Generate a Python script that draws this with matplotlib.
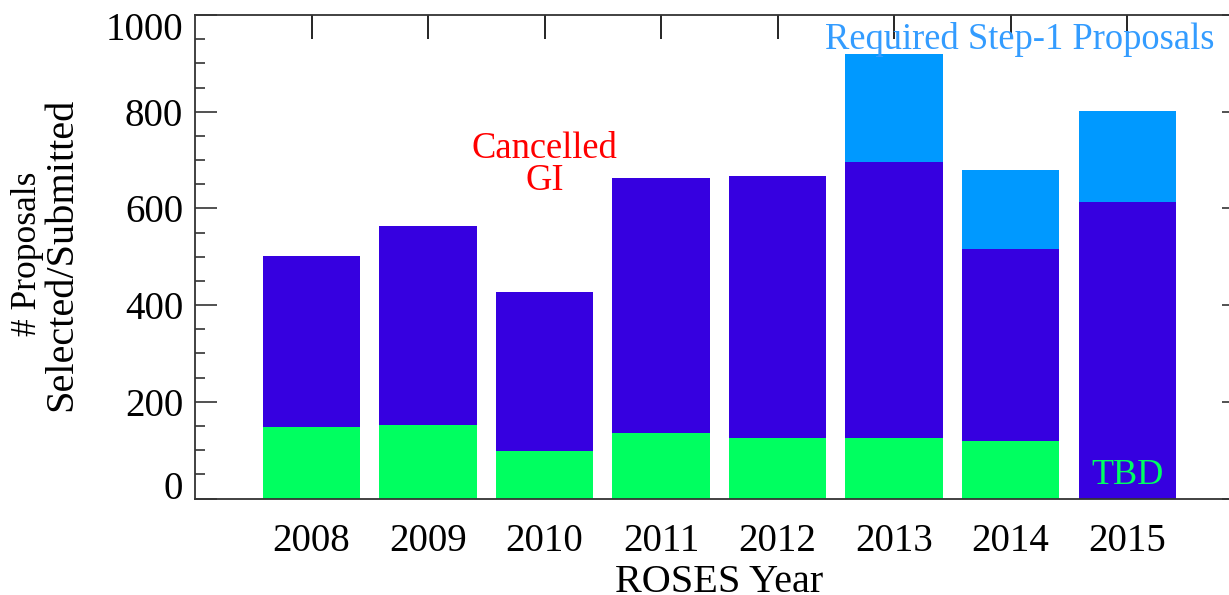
import numpy as np
import matplotlib
matplotlib.use("Agg")
import matplotlib.pyplot as plt
from matplotlib.ticker import MultipleLocator, FixedLocator

# ---- data ----
years = ["2008", "2009", "2010", "2011", "2012", "2013", "2014", "2015"]
step1_required = [np.nan, np.nan, np.nan, np.nan, np.nan, 919, 680, 801]
submitted = [501, 564, 428, 662, 668, 695, 516, 613]
selected = [147, 153, 99, 135, 125, 125, 119, 0]
ytick_vals = [0, 200, 400, 600, 800, 1000]

# ---- style ----
plt.rcParams['font.family'] = ['Liberation Serif', 'DejaVu Serif']
C_DARK = '#3600E0'
C_GREEN = '#00FF60'
C_LIGHT = '#0099FF'
SPINE = '#333333'

W, H = 1229, 595
fig = plt.figure(figsize=(W / 100, H / 100), dpi=100)
left_px, right_px, top_px, bot_px = 195, 1243.7, 15, 498.5
ax = fig.add_axes([left_px / W, (H - bot_px) / H,
                   (right_px - left_px) / W, (bot_px - top_px) / H])

x = np.arange(len(years))
bw = 0.835
ax.bar(x, step1_required, width=bw, color=C_LIGHT, linewidth=0, zorder=1)
ax.bar(x, submitted, width=bw, color=C_DARK, linewidth=0, zorder=2)
ax.bar(x, selected, width=bw, color=C_GREEN, linewidth=0, zorder=3)

ax.set_xlim(-1, 8)
ax.set_ylim(0, 1000)

for s in ax.spines.values():
    s.set_color(SPINE)
    s.set_linewidth(1.3)
    s.set_zorder(5)

# x ticks: labels at bottom, tick marks on top only
ax.set_xticks(x)
ax.set_xticklabels(years, fontsize=28)
ax.tick_params(axis='x', which='major', direction='in', bottom=True, top=True,
               length=0, pad=17.5, labelsize=28)
for t in ax.xaxis.get_major_ticks():
    t.tick2line.set_markersize(17.3)
    t.tick2line.set_markeredgewidth(1.2)
    t.tick2line.set_color(SPINE)

# y ticks
ax.yaxis.set_major_locator(FixedLocator(ytick_vals))
ax.yaxis.set_minor_locator(MultipleLocator(50))
ax.set_yticklabels(['' if v in (0, 1000) else str(v) for v in ytick_vals])
ax.tick_params(axis='y', which='major', direction='in', left=True, right=True,
               length=15.8, width=1.2, color=SPINE, pad=8.6, labelsize=28)
ax.tick_params(axis='y', which='minor', direction='in', left=True, right=False,
               length=7.2, width=1.2, color=SPINE)

# end labels shifted inside the axis range
ax.annotate('0', xy=(0, 0), xycoords=('axes fraction', 'data'),
            xytext=(-8.6, 9.7), textcoords='offset points',
            ha='right', va='center_baseline', fontsize=28)
ax.annotate('1000', xy=(0, 1000), xycoords=('axes fraction', 'data'),
            xytext=(-8.6, -7.9), textcoords='offset points',
            ha='right', va='center_baseline', fontsize=28)

# annotations
ax.text(2.0, 638, 'Cancelled\nGI', color='#FF0000', fontsize=26.3,
        ha='center', va='baseline', linespacing=0.91,
        multialignment='center', zorder=6)
ax.text(6.074, 929, 'Required Step-1 Proposals', color='#339CFF',
        fontsize=26.3, ha='center', va='baseline', zorder=6)
ax.text(7.0, 31, 'TBD', color=C_GREEN, fontsize=26,
        ha='center', va='baseline', zorder=6)

# axis titles
fig.text(719 / W, (H - 592) / H, 'ROSES Year', fontsize=29,
         ha='center', va='baseline')
fig.text(35.5 / W, (H - 254) / H, '# Proposals', fontsize=25.5, rotation=90,
         rotation_mode='anchor', ha='center', va='baseline')
fig.text(71 / W, (H - 254) / H, 'Selected/Submitted', fontsize=29,
         rotation=90, rotation_mode='anchor', ha='center', va='baseline')

fig.savefig('out.png', dpi=100)
